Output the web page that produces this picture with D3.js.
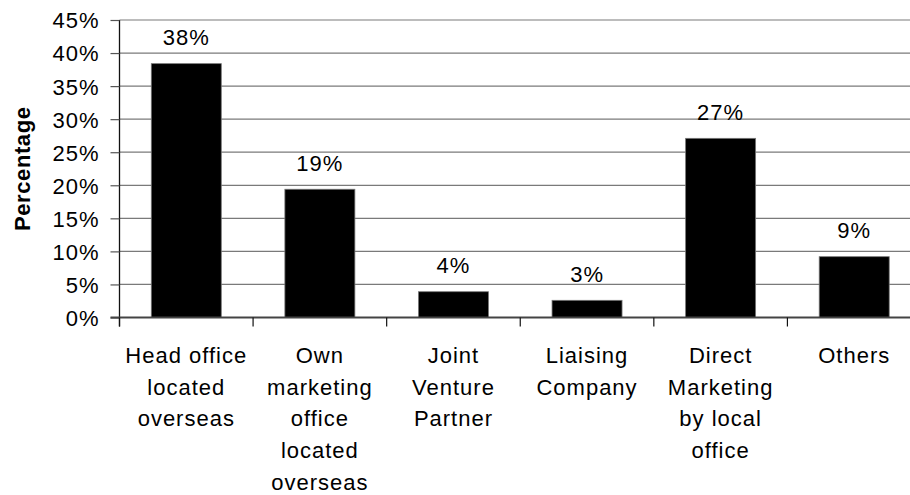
<!DOCTYPE html>
<html>
<head>
<meta charset="utf-8">
<script src="https://cdn.jsdelivr.net/npm/d3@7/dist/d3.min.js"></script>
<style>
  html, body { margin: 0; padding: 0; background: #fff; }
  svg { display: block; font-family: "Liberation Sans", Arial, sans-serif; }
</style>
</head>
<body>
<svg id="chart" width="910" height="495"></svg>
<script>
// Category labels (line breaks marked with "\n")
const categories = [
  "Head office\nlocated\noverseas",
  "Own\nmarketing\noffice\nlocated\noverseas",
  "Joint\nVenture\nPartner",
  "Liaising\nCompany",
  "Direct\nMarketing\nby local\noffice",
  "Others"
];
// Share of respondents for each channel
const values = [0.384, 0.194, 0.039, 0.026, 0.271, 0.092];
// Y axis tick values
const yTicks = [0, 0.05, 0.10, 0.15, 0.20, 0.25, 0.30, 0.35, 0.40, 0.45];
const yTitle = "Percentage";

const svg = d3.select("#chart");
const plotLeft = 119.5, plotRight = 921, plotTop = 20, plotBottom = 317.5;
const fontSize = 22, spacing = 1;

const x = d3.scaleBand()
  .domain(d3.range(categories.length))
  .range([plotLeft, plotRight])
  .paddingInner(0.476)
  .paddingOuter(0.238);

const y = d3.scaleLinear().domain([0, 0.45]).range([plotBottom, plotTop]);
const fmt = d3.format(".0%");

// Horizontal gridlines
svg.append("g")
  .selectAll("line")
  .data(yTicks.filter(d => d > 0))
  .join("line")
  .attr("x1", plotLeft).attr("x2", 910)
  .attr("y1", d => y(d)).attr("y2", d => y(d))
  .attr("stroke", "#7a7a7a").attr("stroke-width", 1.2);

// Y axis
const yAxis = svg.append("g")
  .attr("transform", `translate(${plotLeft},0)`)
  .call(d3.axisLeft(y).tickValues(yTicks).tickFormat(fmt).tickSize(9).tickPadding(11));
yAxis.select(".domain").attr("stroke", "#111").attr("stroke-width", 1.3)
  .attr("d", `M0,${plotTop}V${plotBottom + 9}`);
yAxis.selectAll(".tick line").attr("stroke", "#555").attr("stroke-width", 1.2);
yAxis.selectAll(".tick text")
  .attr("font-size", fontSize).attr("fill", "#000")
  .attr("letter-spacing", spacing)
  .attr("font-family", "'Liberation Sans', Arial, sans-serif")
  .attr("dy", "0.36em");

// Bars
svg.append("g")
  .selectAll("rect")
  .data(values)
  .join("rect")
  .attr("x", (d, i) => x(i))
  .attr("width", x.bandwidth())
  .attr("y", d => y(d))
  .attr("height", d => y(0) - y(d))
  .attr("fill", "#000")
  .attr("stroke", "#777").attr("stroke-width", 0.8);

// X axis line and category separators
svg.append("line")
  .attr("x1", plotLeft - 9).attr("x2", 910)
  .attr("y1", plotBottom).attr("y2", plotBottom)
  .attr("stroke", "#444").attr("stroke-width", 2);
svg.append("g")
  .selectAll("line")
  .data(d3.range(categories.length + 1))
  .join("line")
  .attr("x1", i => plotLeft + i * x.step()).attr("x2", i => plotLeft + i * x.step())
  .attr("y1", plotBottom).attr("y2", plotBottom + 9)
  .attr("stroke", "#111").attr("stroke-width", 1.2);

// Value labels
svg.append("g")
  .selectAll("text")
  .data(values)
  .join("text")
  .attr("x", (d, i) => x(i) + x.bandwidth() / 2)
  .attr("y", d => y(d) - 18.5)
  .attr("text-anchor", "middle")
  .attr("font-size", fontSize)
  .attr("letter-spacing", spacing)
  .text(d => fmt(d));

// Category labels
const cat = svg.append("g")
  .selectAll("text")
  .data(categories)
  .join("text")
  .attr("x", (d, i) => x(i) + x.bandwidth() / 2)
  .attr("y", 363)
  .attr("text-anchor", "middle")
  .attr("font-size", fontSize)
  .attr("letter-spacing", spacing);
cat.selectAll("tspan")
  .data(function (d, i) { return d.split("\n").map(t => ({ t, i })); })
  .join("tspan")
  .attr("x", d => x(d.i) + x.bandwidth() / 2)
  .attr("dy", (d, j) => j === 0 ? 0 : 31.7)
  .text(d => d.t);

// Y axis title
svg.append("text")
  .attr("transform", `translate(30,${(plotTop + plotBottom) / 2}) rotate(-90)`)
  .attr("text-anchor", "middle")
  .attr("font-size", 22)
  .attr("letter-spacing", 0.6)
  .attr("font-weight", "bold")
  .text(yTitle);
</script>
</body>
</html>
